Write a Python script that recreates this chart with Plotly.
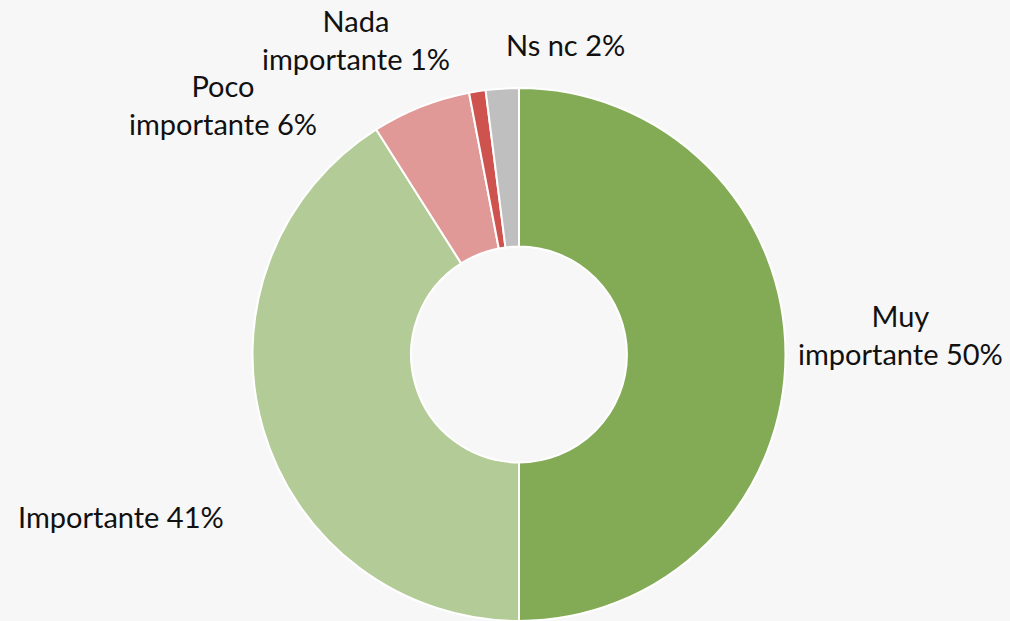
import plotly.graph_objects as go

categories = ["Muy importante", "Importante", "Poco importante", "Nada importante", "Ns nc"]
values = [50, 41, 6, 1, 2]
colors = ["#83AB56", "#B3CB96", "#E09997", "#CE524E", "#BFBFBF"]
label_texts = ["Muy<br>importante 50%", "Importante 41%", "Poco<br>importante 6%", "Nada<br>importante 1%", "Ns nc 2%"]
label_pos = [(900, 335), (121, 516), (223, 105), (356, 40), (565, 45)]

W, H = 1010, 621
fig = go.Figure(go.Pie(
    labels=categories, values=values, sort=False, direction="clockwise", rotation=0,
    hole=0.405, textinfo="none", hoverinfo="label+percent",
    marker=dict(colors=colors, line=dict(color="white", width=2)),
    domain=dict(x=[252 / W, 786 / W], y=[0, 533 / H]),
    showlegend=False,
))
for t, (x, y) in zip(label_texts, label_pos):
    fig.add_annotation(x=x / W, y=1 - y / H, xref="paper", yref="paper", text=t,
                       showarrow=False, xanchor="center", yanchor="middle", align="center",
                       font=dict(family="Lato", size=29, color="#111111"))
fig.update_layout(width=W, height=H, margin=dict(l=0, r=0, t=0, b=0),
                  paper_bgcolor="#F7F7F7", plot_bgcolor="#F7F7F7")
fig.write_html("out.html", config={"displayModeBar": False},
               post_script="document.body.style.margin='0';document.body.style.background='#F7F7F7';")
